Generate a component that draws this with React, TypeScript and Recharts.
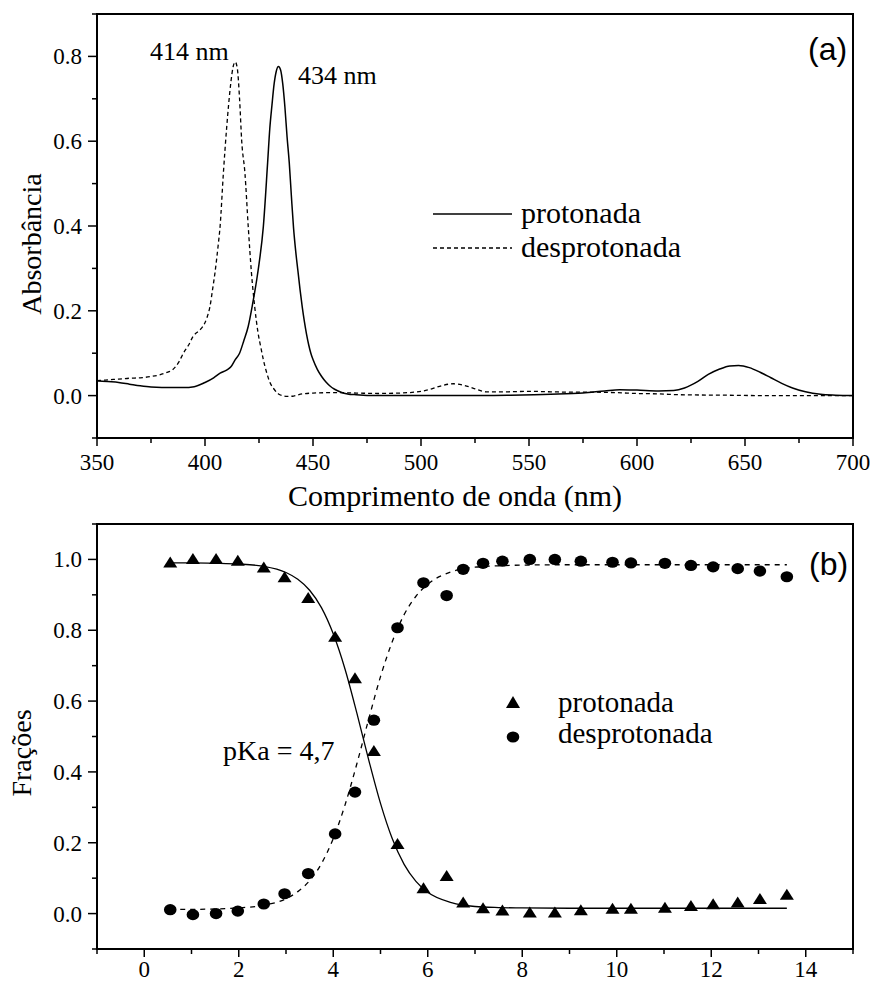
import React from "react";
import {
  ComposedChart,
  Line,
  Scatter,
  XAxis,
  YAxis,
  ReferenceArea,
  Legend,
} from "recharts";

const SERIES_NAMES = ["protonada", "desprotonada"];

// (a) espectros UV-Vis
const WL_PROT = [
  350, 355, 360, 365, 370, 375, 380, 385, 390, 395, 400, 404, 407, 410, 412, 414,
  416, 418, 420, 422, 424, 425, 427, 429, 430, 431, 432, 433, 434, 435, 436, 437,
  438, 439, 440, 441, 442, 443, 444, 445, 446, 447, 448, 449, 450, 452, 454, 456,
  458, 460, 463, 466, 470, 480, 500, 520, 540, 560, 575, 585, 592, 600, 610, 617,
  622, 628, 633, 638, 643, 647, 652, 657, 662, 667, 672, 678, 685, 692, 700,
];
const ABS_PROT = [
  0.035, 0.033, 0.031, 0.027, 0.023, 0.02, 0.019, 0.019, 0.019, 0.021, 0.031, 0.042,
  0.053, 0.06, 0.068, 0.085, 0.1, 0.13, 0.163, 0.215, 0.275, 0.31, 0.398, 0.55, 0.63,
  0.685, 0.735, 0.765, 0.776, 0.768, 0.735, 0.68, 0.61, 0.55, 0.47, 0.395, 0.34, 0.295,
  0.25, 0.21, 0.175, 0.145, 0.12, 0.1, 0.085, 0.062, 0.045, 0.032, 0.022, 0.015, 0.008,
  0.004, 0.002, 0.0, 0.0, 0.0, 0.001, 0.003, 0.006, 0.011, 0.014, 0.013, 0.011, 0.012,
  0.018, 0.033, 0.05, 0.062, 0.07, 0.071, 0.066, 0.055, 0.042, 0.029, 0.018, 0.009,
  0.003, 0.001, 0.0,
];
const WL_DESPROT = [
  350, 355, 360, 365, 370, 375, 379, 382, 385, 388, 390, 392.5, 394.5, 397, 399, 401,
  402.3, 403.5, 404.6, 406, 407, 408.5, 410, 411, 412, 413, 414, 415, 416, 417, 418.5,
  420, 421.5, 423, 424.5, 426, 427, 428.5, 430, 432, 434, 436, 438, 441, 445, 450, 460,
  470, 480, 490, 500, 505, 510, 515, 520, 525, 530, 540, 550, 560, 570, 580, 590, 600,
  610, 620, 640, 660, 680, 700,
];
const ABS_DESPROT = [
  0.035, 0.037, 0.039, 0.041, 0.042, 0.045, 0.049, 0.054, 0.061, 0.08, 0.1, 0.12, 0.14,
  0.152, 0.163, 0.185, 0.21, 0.25, 0.289, 0.35, 0.4, 0.524, 0.63, 0.69, 0.74, 0.775,
  0.787, 0.77, 0.7, 0.6, 0.524, 0.4, 0.29, 0.21, 0.15, 0.11, 0.085, 0.055, 0.032, 0.015,
  0.004, 0.0, -0.002, -0.001, 0.004, 0.006, 0.007, 0.006, 0.005, 0.006, 0.01, 0.016,
  0.024, 0.028, 0.024, 0.016, 0.009, 0.009, 0.01, 0.009, 0.008, 0.008, 0.007, 0.005,
  0.004, 0.002, 0.001, 0.0, 0.0, 0.0,
];

// (b) frações vs pH
const PH = [
  0.55, 1.03, 1.52, 1.98, 2.53, 2.97, 3.47, 4.04, 4.46, 4.86, 5.36, 5.91, 6.4, 6.75,
  7.17, 7.58, 8.16, 8.69, 9.24, 9.91, 10.3, 11.02, 11.57, 12.04, 12.56, 13.03, 13.6,
];
const FRAC_PROT = [
  0.99, 1.0, 1.0, 0.995, 0.976, 0.948, 0.89, 0.78, 0.663, 0.458, 0.195, 0.07, 0.105,
  0.03, 0.014, 0.007, 0.002, 0.002, 0.008, 0.012, 0.012, 0.015, 0.02, 0.025, 0.03,
  0.04, 0.052,
];
const FRAC_DESPROT = [
  0.011, -0.003, 0.0, 0.007, 0.027, 0.056, 0.113, 0.225, 0.343, 0.546, 0.807, 0.934,
  0.898, 0.972, 0.989, 0.995, 1.0, 1.0, 0.995, 0.992, 0.99, 0.989, 0.983, 0.979, 0.974,
  0.967, 0.951,
];
const FIT_PH = [
  0.55, 1, 1.5, 2, 2.5, 3, 3.25, 3.5, 3.75, 4, 4.25, 4.5, 4.75, 5, 5.25, 5.5, 5.75, 6,
  6.5, 7, 7.5, 8, 9, 10, 11, 12, 13, 13.6,
];
const FIT_PROT = [
  0.99, 0.99, 0.989, 0.987, 0.981, 0.963, 0.944, 0.913, 0.864, 0.79, 0.69, 0.566, 0.434,
  0.311, 0.211, 0.139, 0.091, 0.06, 0.031, 0.02, 0.017, 0.016, 0.015, 0.015, 0.015,
  0.015, 0.015, 0.015,
];
const FIT_DESPROT = [
  0.012, 0.012, 0.013, 0.016, 0.023, 0.042, 0.062, 0.093, 0.141, 0.212, 0.307, 0.423,
  0.549, 0.669, 0.768, 0.844, 0.896, 0.93, 0.965, 0.978, 0.982, 0.984, 0.985, 0.985,
  0.985, 0.985, 0.985, 0.985,
];

const X_TICKS_A = [350, 375, 400, 425, 450, 475, 500, 525, 550, 575, 600, 625, 650, 675, 700];
const Y_TICKS_A = [-0.1, 0, 0.1, 0.2, 0.3, 0.4, 0.5, 0.6, 0.7, 0.8, 0.9];
const X_TICKS_B = [-1, 0, 1, 2, 3, 4, 5, 6, 7, 8, 9, 10, 11, 12, 13, 14, 15];
const Y_TICKS_B = [-0.1, 0, 0.1, 0.2, 0.3, 0.4, 0.5, 0.6, 0.7, 0.8, 0.9, 1.0, 1.1];

const zip = (xs: number[], ys: number[]) => xs.map((x, i) => ({ x, y: ys[i] }));

const SERIF = "Liberation Serif";
const SANS = "Liberation Sans";
const serif = { fontFamily: SERIF };

// ticks drawn by hand so minor ticks can be shorter and unlabeled
function xTick(isMajor: (v: number) => boolean, fmt: (v: number) => string, dy: number) {
  return (props: any) => {
    const { x, y, payload } = props;
    const major = isMajor(payload.value);
    return (
      <g>
        <line x1={x} x2={x} y1={y} y2={y + (major ? 8 : 5)} stroke="#000" strokeWidth={1.5} />
        {major && (
          <text x={x} y={y + dy} textAnchor="middle" fontSize={23} style={serif} fill="#000">
            {fmt(payload.value)}
          </text>
        )}
      </g>
    );
  };
}

function yTick(isMajor: (v: number) => boolean, fmt: (v: number) => string) {
  return (props: any) => {
    const { x, y, payload } = props;
    const major = isMajor(payload.value);
    return (
      <g>
        <line x1={x - (major ? 9 : 5)} x2={x} y1={y} y2={y} stroke="#000" strokeWidth={1.5} />
        {major && (
          <text x={x - 15} y={y + 8} textAnchor="end" fontSize={23} style={serif} fill="#000">
            {fmt(payload.value)}
          </text>
        )}
      </g>
    );
  };
}

const evenTenth = (v: number) => Math.round(v * 10) % 2 === 0;
// keep only the named series, in the order of SERIES_NAMES
const byName = (items: any[]) =>
  items
    .filter((it) => it.type !== "none" && SERIES_NAMES.includes(it.value))
    .sort((a, b) => SERIES_NAMES.indexOf(a.value) - SERIES_NAMES.indexOf(b.value));

const SpectraLegend = (props: any) => {
  const items = byName(props.payload || []);
  return (
    <svg width={300} height={80} style={{ overflow: "visible" }}>
      {items.map((it: any, i: number) => (
        <g key={it.value}>
          <line
            x1={3}
            x2={82}
            y1={19 + i * 34}
            y2={19 + i * 34}
            stroke="#000"
            strokeWidth={1.3}
            strokeDasharray={i === 1 ? "4 3" : undefined}
          />
          <text x={91} y={28 + i * 34} fontSize={30} style={serif} fill="#000">
            {it.value}
          </text>
        </g>
      ))}
    </svg>
  );
};

const FractionLegend = (props: any) => {
  const items = byName(props.payload || []);
  return (
    <svg width={260} height={85} style={{ overflow: "visible" }}>
      {items.map((it: any, i: number) => {
        const cy = 23 + i * 34;
        return (
          <g key={it.value}>
            {i === 0 ? (
              <polygon points={`16,${cy + 5} 30,${cy + 5} 23,${cy - 7}`} fill="#000" />
            ) : (
              <ellipse cx={23} cy={cy} rx={6.3} ry={5.6} fill="#000" />
            )}
            <text x={68} y={cy + 9 - i * 3} fontSize={29} style={serif} fill="#000">
              {it.value}
            </text>
          </g>
        );
      })}
    </svg>
  );
};

const TriangleDot = (p: any) => (
  <polygon
    points={`${p.cx - 7},${p.cy + 4.5} ${p.cx + 7},${p.cy + 4.5} ${p.cx},${p.cy - 6.5}`}
    fill="#000"
  />
);
const CircleDot = (p: any) => <ellipse cx={p.cx} cy={p.cy} rx={6.3} ry={5.6} fill="#000" />;

export default function App() {
  const prot = zip(WL_PROT, ABS_PROT);
  const desprot = zip(WL_DESPROT, ABS_DESPROT);
  const fProt = zip(PH, FRAC_PROT);
  const fDesprot = zip(PH, FRAC_DESPROT);
  const fitProt = zip(FIT_PH, FIT_PROT);
  const fitDesprot = zip(FIT_PH, FIT_DESPROT);

  return (
    <div style={{ position: "absolute", left: 0, top: 0, width: 875, height: 982, background: "#fff" }}>
      <ComposedChart width={875} height={510} margin={{ top: 14, right: 22, bottom: 0, left: 0 }}>
        <XAxis
          type="number"
          dataKey="x"
          domain={[350, 700]}
          ticks={X_TICKS_A}
          interval={0}
          allowDataOverflow
          axisLine={false}
          tickLine={false}
          tickSize={0}
          tickMargin={0}
          height={72}
          tick={xTick((v) => v % 50 === 0, (v) => String(v), 32)}
        />
        <YAxis
          type="number"
          domain={[-0.1, 0.9]}
          ticks={Y_TICKS_A}
          interval={0}
          allowDataOverflow
          axisLine={false}
          tickLine={false}
          tickSize={0}
          tickMargin={0}
          width={97}
          tick={yTick(evenTenth, (v) => v.toFixed(1))}
        />
        <Line
          data={prot}
          dataKey="y"
          name={SERIES_NAMES[0]}
          type="monotone"
          stroke="#000"
          strokeWidth={1.5}
          dot={false}
          activeDot={false}
          isAnimationActive={false}
        />
        <Line
          data={desprot}
          dataKey="y"
          name={SERIES_NAMES[1]}
          type="monotone"
          stroke="#000"
          strokeWidth={1.3}
          strokeDasharray="4 3"
          dot={false}
          activeDot={false}
          isAnimationActive={false}
        />
        <ReferenceArea x1={350} x2={700} y1={-0.1} y2={0.9} fill="none" stroke="#000" strokeWidth={2} />
        <Legend
          layout="horizontal"
          verticalAlign="middle"
          align="center"
          wrapperStyle={{ left: 430, top: 195, width: 300, height: 80 }}
          content={SpectraLegend}
        />
      </ComposedChart>

      <ComposedChart width={875} height={472} margin={{ top: 14, right: 22, bottom: 0, left: 0 }}>
        <XAxis
          type="number"
          dataKey="x"
          domain={[-1, 15]}
          ticks={X_TICKS_B}
          interval={0}
          allowDataOverflow
          axisLine={false}
          tickLine={false}
          tickSize={0}
          tickMargin={0}
          height={33}
          tick={xTick((v) => v % 2 === 0 && v >= 0 && v <= 14, (v) => String(v), 28)}
        />
        <YAxis
          type="number"
          domain={[-0.1, 1.1]}
          ticks={Y_TICKS_B}
          interval={0}
          allowDataOverflow
          axisLine={false}
          tickLine={false}
          tickSize={0}
          tickMargin={0}
          width={97}
          tick={yTick((v) => evenTenth(v) && v > -0.05 && v < 1.05, (v) => v.toFixed(1))}
        />
        <Line
          data={fitProt}
          dataKey="y"
          type="monotone"
          stroke="#000"
          strokeWidth={1.3}
          dot={false}
          activeDot={false}
          legendType="none"
          isAnimationActive={false}
        />
        <Line
          data={fitDesprot}
          dataKey="y"
          type="monotone"
          stroke="#000"
          strokeWidth={1.3}
          strokeDasharray="5 5"
          dot={false}
          activeDot={false}
          legendType="none"
          isAnimationActive={false}
        />
        <Scatter
          data={fProt}
          dataKey="y"
          name={SERIES_NAMES[0]}
          legendType="triangle"
          fill="#000"
          shape={TriangleDot}
          isAnimationActive={false}
        />
        <Scatter
          data={fDesprot}
          dataKey="y"
          name={SERIES_NAMES[1]}
          legendType="circle"
          fill="#000"
          shape={CircleDot}
          isAnimationActive={false}
        />
        <ReferenceArea x1={-1} x2={15} y1={-0.1} y2={1.1} fill="none" stroke="#000" strokeWidth={2} />
        <Legend
          layout="horizontal"
          verticalAlign="middle"
          align="center"
          wrapperStyle={{ left: 490, top: 170, width: 260, height: 85 }}
          content={FractionLegend}
        />
      </ComposedChart>

      {/* titles and annotations */}
      <svg
        width={875}
        height={982}
        style={{ position: "absolute", left: 0, top: 0, pointerEvents: "none", fontFamily: SERIF }}
        fill="#000"
      >
        <text x={150} y={60} fontSize={26}>414 nm</text>
        <text x={298} y={84} fontSize={26}>434 nm</text>
        <text x={808} y={60} fontSize={32} style={{ fontFamily: SANS }}>(a)</text>
        <text x={288} y={506} fontSize={30}>Comprimento de onda (nm)</text>
        <text x={41} y={244} fontSize={28} textAnchor="middle" transform="rotate(-90 41 244)">
          Absorbância
        </text>
        <text x={809} y={575} fontSize={32} style={{ fontFamily: SANS }}>(b)</text>
        <text x={223} y={760} fontSize={28}>pKa = 4,7</text>
        <text x={31} y={753} fontSize={28} textAnchor="middle" transform="rotate(-90 31 753)">
          Frações
        </text>
      </svg>
    </div>
  );
}
